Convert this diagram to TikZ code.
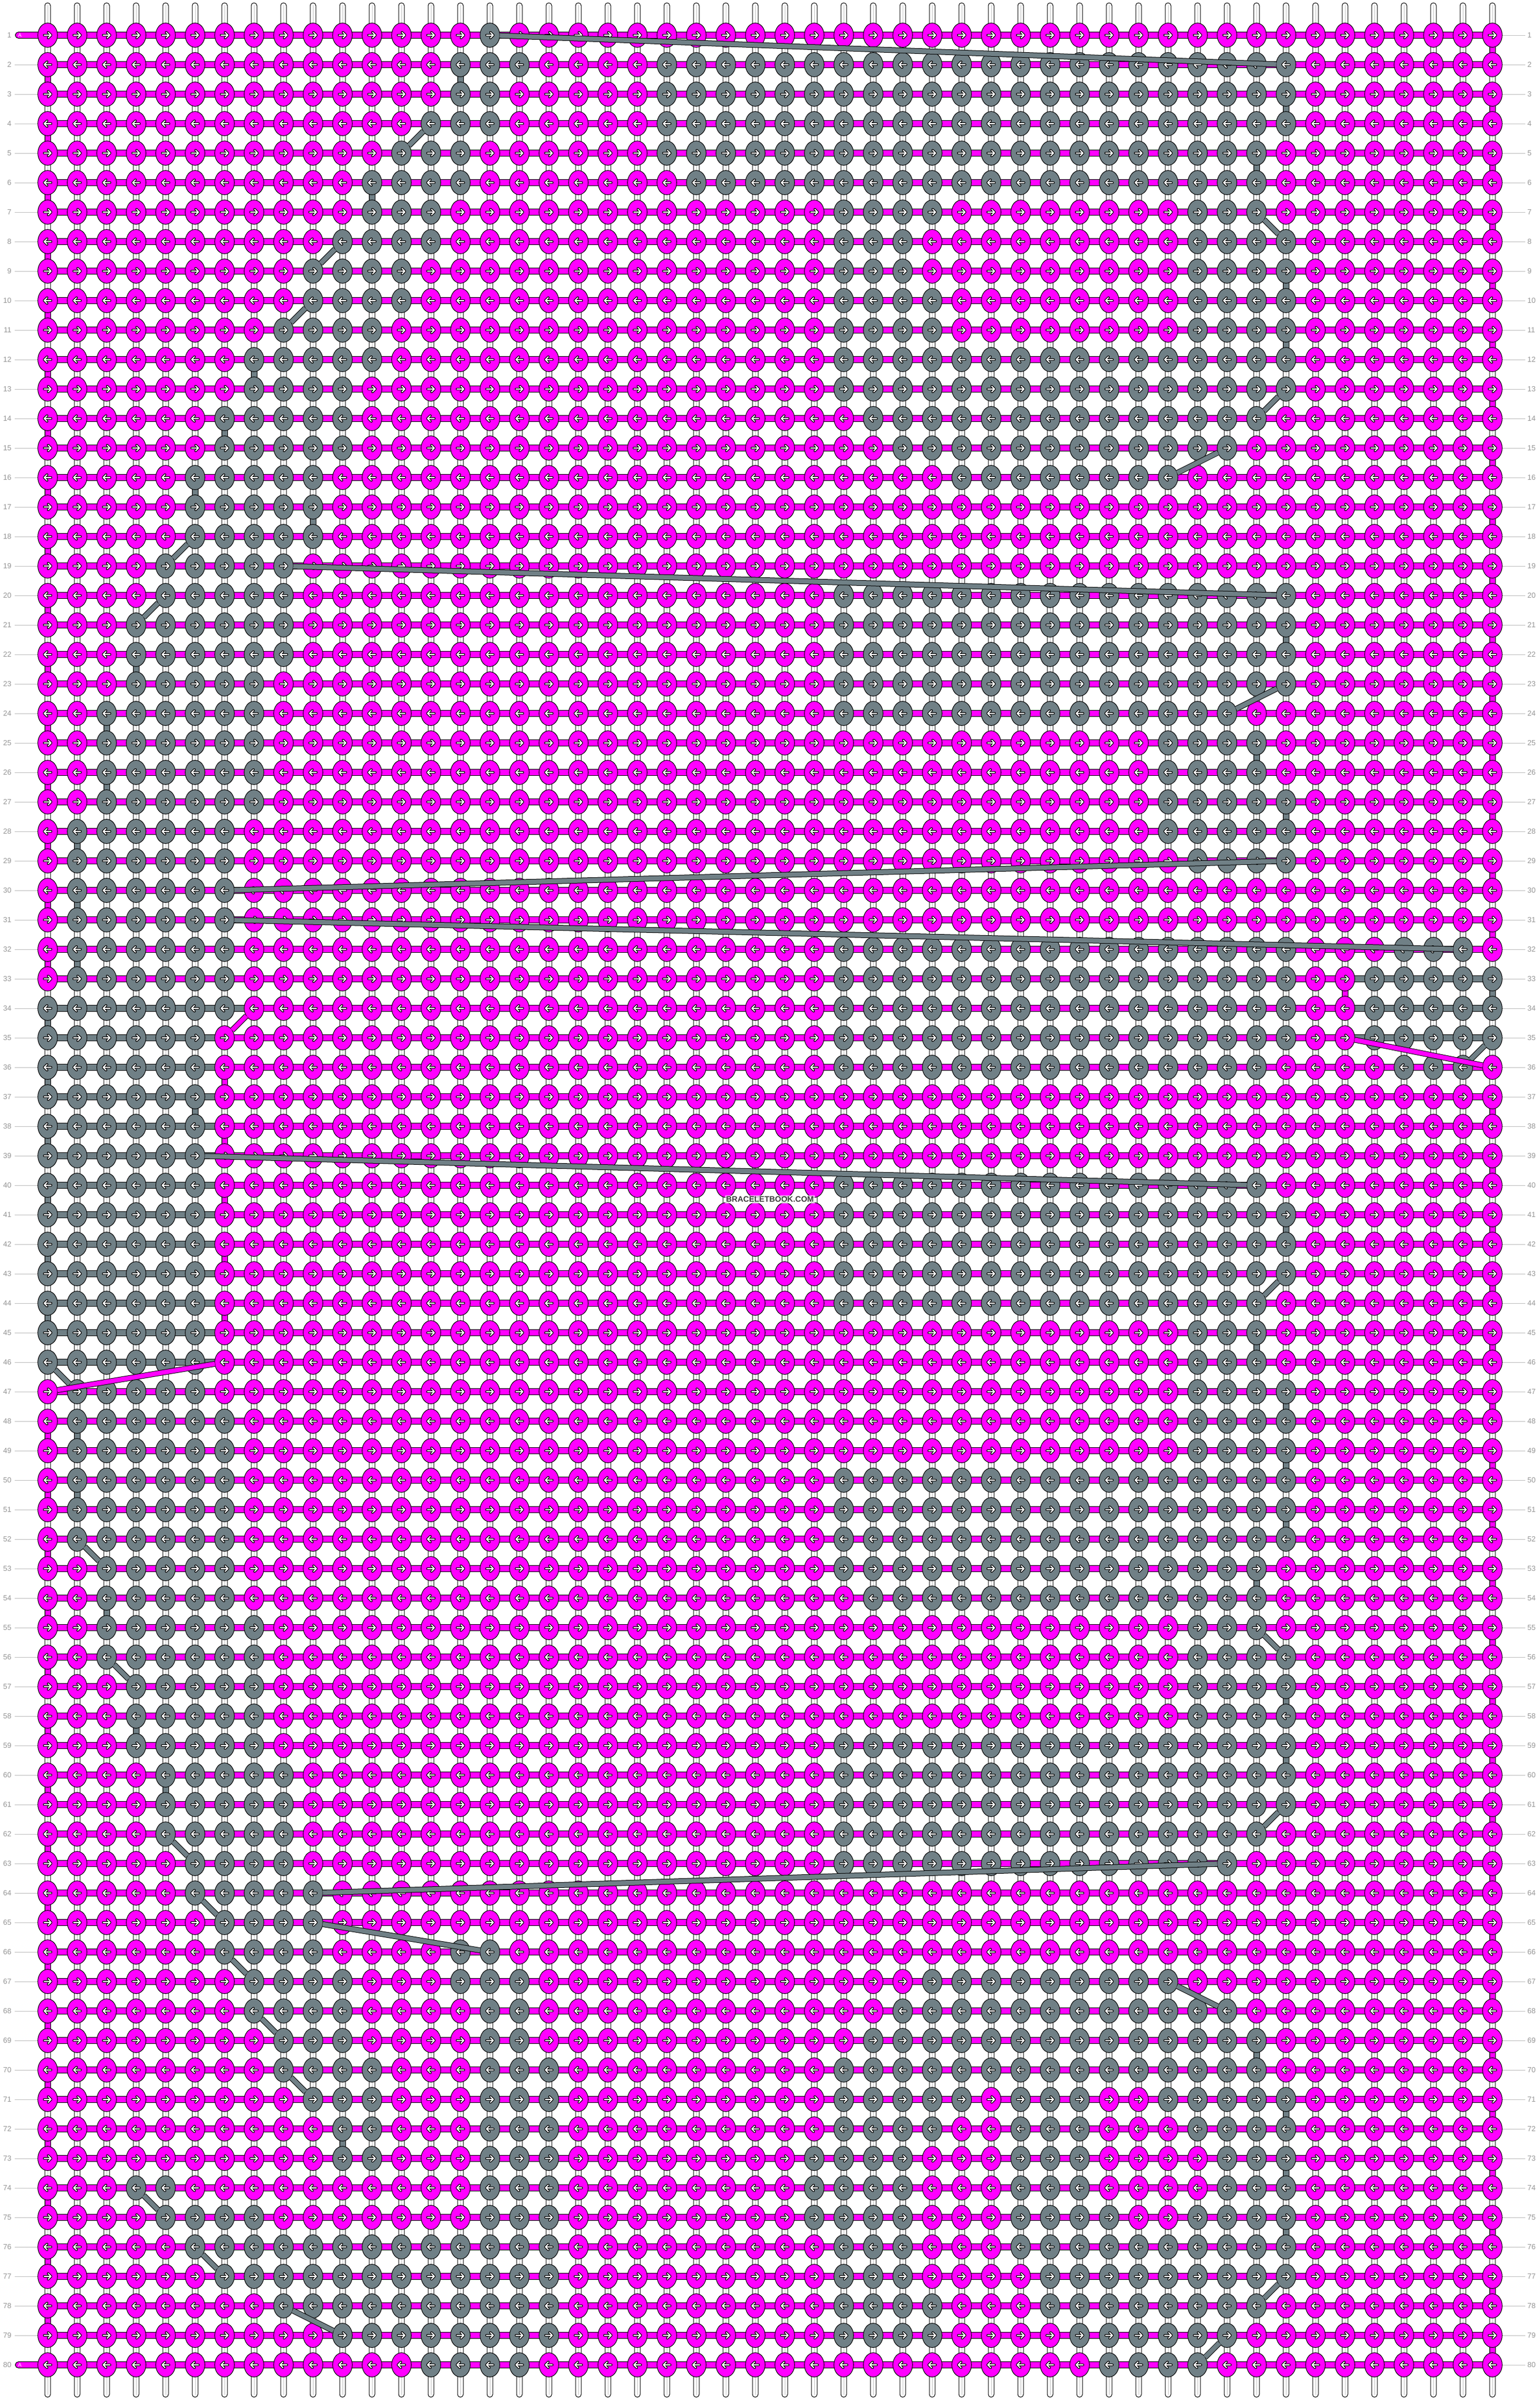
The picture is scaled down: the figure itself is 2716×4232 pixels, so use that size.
\documentclass[tikz,border=0pt]{standalone}
\usepackage{fontspec}
\setmainfont{Liberation Sans}
\usetikzlibrary{shapes.geometric}
\definecolor{pk}{RGB}{255,0,255}
\definecolor{gy}{RGB}{112,128,134}
\definecolor{lblc}{RGB}{150,150,150}
\definecolor{lbllc}{RGB}{190,190,190}
\definecolor{strc}{RGB}{195,195,195}
\definecolor{wmc}{RGB}{60,60,60}
\newcount\nxt
\tikzset{
  barbox/.style={draw=black,line width=0.25pt},
  knotshape/.style={ellipse,minimum width=8.65pt,minimum height=10.7pt,inner sep=0pt,outer sep=0pt},
  grayline/.style={draw=black,line width=0.25pt,double=gy,double distance=2pt},
  pinkline/.style={draw=black,line width=0.25pt,double=pk,double distance=2pt},
  rowlbl/.style={text=lblc,inner sep=0pt,font=\fontsize{3.25pt}{3.6pt}\selectfont},
  lblline/.style={draw=lbllc,line width=0.25pt},
}
\newsavebox\pkR \newsavebox\pkL \newsavebox\gyR \newsavebox\gyL
\newcommand\knotarrow{%
  \pgfpathmoveto{\pgfpoint{-1.5pt}{0pt}}\pgfpathlineto{\pgfpoint{1.5pt}{0pt}}%
  \pgfpathmoveto{\pgfpoint{0.25pt}{1.25pt}}\pgfpathlineto{\pgfpoint{1.5pt}{0pt}}\pgfpathlineto{\pgfpoint{0.25pt}{-1.25pt}}}
\newcommand\mkknot[3]{%
  \sbox#1{\begin{pgfpicture}
    \pgftransformxscale{#3}%
    \pgfsetlinewidth{0.25pt}\pgfsetfillcolor{#2}\pgfsetstrokecolor{black}%
    \pgfpathellipse{\pgfpointorigin}{\pgfpoint{4.325pt}{0pt}}{\pgfpoint{0pt}{5.35pt}}%
    \pgfusepath{fill,stroke}%
    \pgfsetroundcap\pgfsetroundjoin
    \pgfsetlinewidth{1.1pt}\pgfsetstrokecolor{black}\knotarrow\pgfusepath{stroke}%
    \pgfsetlinewidth{0.5pt}\pgfsetstrokecolor{white}\knotarrow\pgfusepath{stroke}%
    \pgfpathrectangle{\pgfpoint{-5pt}{-6pt}}{\pgfpoint{10pt}{12pt}}\pgfusepath{use as bounding box}%
  \end{pgfpicture}}}
\newcommand\kseg[3]{%
  \foreach \c in {#1,...,#2}{\edef\X{\the\numexpr32+52*\c\relax}\pgftext[at={\pgfpointxy{\X}{\Y}}]{\usebox{#3}}}}
\newcommand\dorow[2]{%
  \edef\Y{\the\numexpr10+52*#1\relax}%
  \ifodd#1\relax \let\pkbox\pkR \let\gybox\gyR \else \let\pkbox\pkL \let\gybox\gyL \fi
  \global\nxt=1
  \foreach \a/\b in {#2}{%
    \ifnum\a>\nxt\relax
      \edef\myknottmp{\noexpand\kseg{\the\nxt}{\the\numexpr\a-1\relax}{\noexpand\pkbox}}\myknottmp
    \fi
    \kseg{\a}{\b}{\gybox}%
    \global\nxt=\numexpr\b+1\relax}%
  \ifnum\nxt<51\relax
    \edef\myknottmp{\noexpand\kseg{\the\nxt}{50}{\noexpand\pkbox}}\myknottmp
  \fi}
\newcommand\hb[4]{\filldraw[barbox,fill=#4] (#2,{10+52*#1-5.5}) rectangle (#3,{10+52*#1+5.5});}
\newcommand\vt[3]{\filldraw[barbox,fill=#3] ({32+52*#2-5},{10+52*#1}) rectangle ({32+52*#2+5},{62+52*#1});}
\newcommand\lk[5]{%
  \node[knotshape] (n#1-#2) at ({32+52*#2},{10+52*#1}) {};
  \node[knotshape] (n#3-#4) at ({32+52*#4},{10+52*#3}) {};
  \draw[#5] (n#1-#2) -- (n#3-#4);}
\begin{document}
\mkknot{\pkR}{pk}{1}\mkknot{\pkL}{pk}{-1}\mkknot{\gyR}{gy}{1}\mkknot{\gyL}{gy}{-1}%
\begin{tikzpicture}[x=0.25pt,y=-0.25pt]
\fill[white] (0,0) rectangle (2716,4232);
\useasboundingbox (0,0) rectangle (2716,4232);
% base strings
\foreach \c in {1,...,50}{
  \filldraw[fill=white,draw=black,line width=0.25pt,rounded corners=1.2pt] ({32+52*\c-5},5) rectangle ({32+52*\c+5},4227);
  \draw[strc,line width=0.25pt] ({32+52*\c},9) -- ({32+52*\c},4223);
}
% horizontal bars
\foreach \r in {2,...,32,47,48,...,79}{\hb{\r}{84}{2632}{pk}}
\filldraw[barbox,fill=pk,rounded corners=1.4pt] (27,56.5) rectangle (2632,67.5);
\filldraw[barbox,fill=pk,rounded corners=1.4pt] (27,4164.5) rectangle (2632,4175.5);
\hb{33}{84}{2372}{pk}\hb{33}{2372}{2632}{gy}
\hb{34}{84}{448}{gy}\hb{34}{448}{2372}{pk}\hb{34}{2372}{2632}{gy}
\hb{35}{84}{396}{gy}\hb{35}{396}{2372}{pk}\hb{35}{2372}{2632}{gy}
\foreach \r in {36,...,46}{\hb{\r}{84}{396}{gy}\hb{\r}{396}{2632}{pk}}
% turn-around segments, pink
\foreach \r in {1,3,...,31,37,39,...,79}{\vt{\r}{50}{pk}}
\vt{33}{45}{pk}
\foreach \r in {2,4,...,32,48,50,...,78}{\vt{\r}{1}{pk}}
\foreach \r in {36,38,40,42,44}{\vt{\r}{7}{pk}}
% turn-around segments, grey
\foreach \r/\c in {3/43,5/42,9/43,11/43,17/10,21/43,25/42,27/43,33/50,37/6,41/43,45/42,47/43,49/43,51/43,53/42,57/43,59/43,69/42,71/43,73/43,75/43,
  2/15,6/12,12/8,14/7,16/6,22/4,24/3,26/3,28/2,30/2,32/2,34/1,36/1,38/1,40/1,42/1,44/1,48/2,50/2,54/3,58/4,60/5,72/11}{\vt{\r}{\c}{gy}}
% knots
\dorow{1}{16/16}
\dorow{2}{15/17,22/43}
\dorow{3}{15/16,22/43}
\dorow{4}{14/16,22/43}
\dorow{5}{13/15,22/42}
\dorow{6}{12/15,23/42}
\dorow{7}{12/14,28/31,40/42}
\dorow{8}{11/14,28/30,40/43}
\dorow{9}{10/13,28/30,40/43}
\dorow{10}{10/13,28/31,40/43}
\dorow{11}{9/12,28/31,40/43}
\dorow{12}{8/12,28/43}
\dorow{13}{8/11,28/43}
\dorow{14}{7/11,29/42}
\dorow{15}{7/11,30/41}
\dorow{16}{6/10,32/39}
\dorow{17}{6/10}
\dorow{18}{6/10}
\dorow{19}{5/9}
\dorow{20}{5/9,28/43}
\dorow{21}{4/9,28/43}
\dorow{22}{4/9,28/43}
\dorow{23}{4/8,28/43}
\dorow{24}{3/8,28/41}
\dorow{25}{3/8,39/42}
\dorow{26}{3/8,39/42}
\dorow{27}{3/8,39/43}
\dorow{28}{2/7,39/43}
\dorow{29}{2/7,40/43}
\dorow{30}{2/7}
\dorow{31}{2/7}
\dorow{32}{2/7,28/43,47/49}
\dorow{33}{2/7,28/43,46/50}
\dorow{34}{1/7,28/43,46/50}
\dorow{35}{1/6,28/43,46/50}
\dorow{36}{1/6,28/42,47/49}
\dorow{37}{1/6}
\dorow{38}{1/6}
\dorow{39}{1/6}
\dorow{40}{1/6,28/42}
\dorow{41}{1/6,28/43}
\dorow{42}{1/6,28/43}
\dorow{43}{1/6,28/43}
\dorow{44}{1/6,28/42}
\dorow{45}{1/6,40/42}
\dorow{46}{1/6,40/42}
\dorow{47}{2/6,40/43}
\dorow{48}{2/7,40/43}
\dorow{49}{2/7,40/43}
\dorow{50}{2/7,28/43}
\dorow{51}{2/7,28/43}
\dorow{52}{2/7,28/43}
\dorow{53}{3/7,28/42}
\dorow{54}{3/7,29/42}
\dorow{55}{3/8,40/42}
\dorow{56}{3/8,40/43}
\dorow{57}{4/8,40/43}
\dorow{58}{4/8,40/43}
\dorow{59}{4/8,28/43}
\dorow{60}{5/9,28/43}
\dorow{61}{5/9,28/43}
\dorow{62}{5/9,28/42}
\dorow{63}{6/9,28/41}
\dorow{64}{6/10}
\dorow{65}{7/10}
\dorow{66}{7/10,15/16}
\dorow{67}{8/11,15/17,31/39}
\dorow{68}{8/11,16/17,30/41}
\dorow{69}{9/11,16/17,29/42}
\dorow{70}{9/12,16/18,28/42}
\dorow{71}{10/12,16/18,28/32,34/36,39/43}
\dorow{72}{11/12,16/18,28/31,34/36,40/43}
\dorow{73}{11/12,16/18,27/30,34/36,41/43}
\dorow{74}{4/5,16/18,27/30,34/36,41/43}
\dorow{75}{5/8,16/18,27/30,34/37,40/43}
\dorow{76}{6/18,28/30,34/43}
\dorow{77}{7/18,28/30,35/43}
\dorow{78}{9/18,28/31,35/42}
\dorow{79}{11/18,28/31,36/41}
\dorow{80}{14/17,37/40}
% carried strings
\lk{1}{16}{2}{43}{grayline}
\lk{7}{42}{8}{43}{grayline}
\lk{13}{43}{14}{42}{grayline}
\lk{15}{41}{16}{39}{grayline}
\lk{19}{9}{20}{43}{grayline}
\lk{23}{43}{24}{41}{grayline}
\lk{29}{43}{30}{7}{grayline}
\lk{31}{7}{32}{49}{grayline}
\lk{35}{50}{36}{49}{grayline}
\lk{39}{6}{40}{42}{grayline}
\lk{43}{43}{44}{42}{grayline}
\lk{55}{42}{56}{43}{grayline}
\lk{61}{43}{62}{42}{grayline}
\lk{63}{41}{64}{10}{grayline}
\lk{65}{10}{66}{16}{grayline}
\lk{67}{39}{68}{41}{grayline}
\lk{77}{43}{78}{42}{grayline}
\lk{79}{41}{80}{40}{grayline}
\lk{4}{14}{5}{13}{grayline}
\lk{8}{11}{9}{10}{grayline}
\lk{10}{10}{11}{9}{grayline}
\lk{18}{6}{19}{5}{grayline}
\lk{20}{5}{21}{4}{grayline}
\lk{46}{1}{47}{2}{grayline}
\lk{52}{2}{53}{3}{grayline}
\lk{56}{3}{57}{4}{grayline}
\lk{62}{5}{63}{6}{grayline}
\lk{64}{6}{65}{7}{grayline}
\lk{66}{7}{67}{8}{grayline}
\lk{68}{8}{69}{9}{grayline}
\lk{70}{9}{71}{10}{grayline}
\lk{74}{4}{75}{5}{grayline}
\lk{76}{6}{77}{7}{grayline}
\lk{78}{9}{79}{11}{grayline}
\lk{34}{8}{35}{7}{pinkline}
\lk{35}{45}{36}{50}{pinkline}
\lk{46}{7}{47}{1}{pinkline}
% row numbers
\foreach \r in {1,...,80}{
  \node[rowlbl,anchor=east] (L\r) at (21,{10+52*\r}) {\r};
  \node[rowlbl,anchor=west] (R\r) at (2693,{10+52*\r}) {\r};
  \draw[lblline] (2650,{10+52*\r}) -- (2690,{10+52*\r});
}
\foreach \r in {2,...,79}{\draw[lblline] (26,{10+52*\r}) -- (66,{10+52*\r});}
\node[text=white,anchor=west,inner sep=0pt,font=\fontsize{2.3pt}{2.5pt}\selectfont] (A1) at (31,62) {A};
\node[text=white,anchor=west,inner sep=0pt,font=\fontsize{2.3pt}{2.5pt}\selectfont] (A80) at (31,4170) {A};
\node[fill=white,fill opacity=0.7,text opacity=1,text=wmc,inner sep=0.4pt,font=\bfseries\fontsize{3.5pt}{4pt}\selectfont] (wm) at (1358,2115) {BRACELETBOOK.COM};
\end{tikzpicture}
\end{document}
